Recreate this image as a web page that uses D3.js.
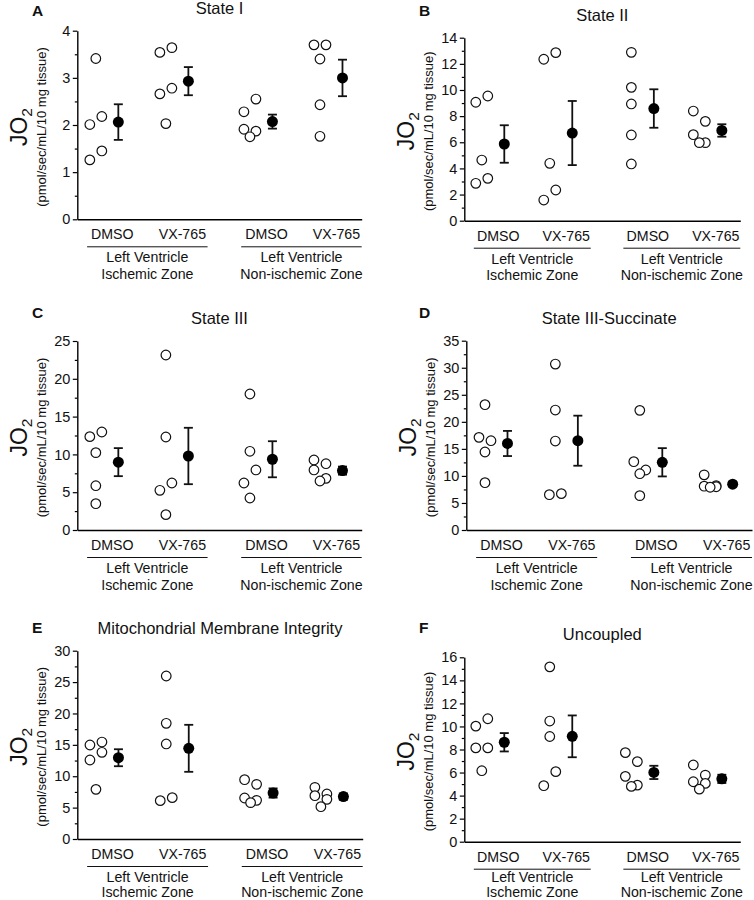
<!DOCTYPE html>
<html>
<head>
<meta charset="utf-8">
<script src="https://cdn.jsdelivr.net/npm/d3@7"></script>
<style>
  body { margin: 0; background: #fff; }
  svg { display: block; font-family: "Liberation Sans", Arial, sans-serif; }
</style>
</head>
<body>
<div id="chart"></div>
<script>
/************ data *************************************/

const categories = ["DMSO", "VX-765", "DMSO", "VX-765"];
const groupLabels = [["Left Ventricle", "Ischemic Zone"], ["Left Ventricle", "Non-ischemic Zone"]];

const panelLetters = ["A", "B", "C", "D", "E", "F"];
const panelTitles = ["State I", "State II", "State III", "State III-Succinate",
                     "Mitochondrial Membrane Integrity", "Uncoupled"];
const yMax = [4, 14, 25, 35, 30, 16];
const yStep = [1, 2, 5, 5, 5, 2];

// replicates per category (DMSO / VX-765 ischemic, DMSO / VX-765 non-ischemic)
const stateI = [
  [3.41, 2.18, 2.01, 1.45, 1.26],
  [3.64, 3.54, 2.78, 2.66, 2.03],
  [2.55, 2.28, 1.91, 1.87, 1.75],
  [3.70, 3.70, 3.40, 2.43, 1.76]
];
const stateII = [
  [9.54, 9.06, 4.64, 3.24, 2.86],
  [12.86, 12.35, 4.39, 2.35, 1.58],
  [12.88, 10.20, 8.93, 6.56, 4.34],
  [8.39, 7.60, 6.58, 5.97, 5.97]
];
const stateIII = [
  [12.96, 12.35, 10.23, 5.86, 3.48],
  [23.15, 12.30, 6.22, 5.25, 2.03],
  [17.99, 10.41, 7.94, 6.22, 4.23],
  [9.26, 8.77, 7.94, 6.83, 6.48]
];
const stateIIISuccinate = [
  [23.17, 17.13, 16.51, 14.42, 8.75],
  [30.68, 22.18, 16.45, 6.72, 6.53],
  [22.12, 12.63, 11.09, 10.41, 6.35],
  [10.2, 8.2, 8.1, 8.0, 7.9]
];
const membraneIntegrity = [
  [15.45, 14.98, 13.81, 12.59, 7.91],
  [25.97, 18.43, 15.14, 6.59, 6.11],
  [9.45, 8.71, 6.53, 6.16, 5.79],
  [8.23, 7.17, 6.90, 6.32, 5.15]
];
const uncoupled = [
  [10.67, 10.03, 8.14, 8.14, 6.16],
  [15.17, 10.47, 9.13, 6.08, 4.86],
  [7.73, 6.95, 5.67, 4.91, 4.80],
  [6.66, 5.78, 5.20, 5.06, 4.56]
];
const panelData = [stateI, stateII, stateIII, stateIIISuccinate, membraneIntegrity, uncoupled];

/************ layout *****************/

const W = 754, H = 900;
// plot frame of each panel (axis lines)
const frames = [
  {x0: 77.3,  x1: 361.7, top: 30.7,  bot: 219.3, lx: 32,  ly: 16},
  {x0: 464.3, x1: 740.3, top: 37.7,  bot: 220.7, lx: 419, ly: 16},
  {x0: 77.3,  x1: 361.7, top: 341,   bot: 530,   lx: 32,  ly: 318},
  {x0: 466.3, x1: 752,   top: 340.7, bot: 530,   lx: 419, ly: 318},
  {x0: 77.3,  x1: 362.7, top: 650.7, bot: 839,   lx: 32,  ly: 633},
  {x0: 464.3, x1: 740.3, top: 657.3, bot: 841.7, lx: 419, ly: 633}
];
const catPos = [0.5, 1.5, 2.7, 3.7];
const groupSpan = [[0.14, 1.86], [2.34, 4.06]];
const rOpen = 4.8, rMean = 5.5, jitterStep = 6;
const cloudShift = -16.5, meanShift = 6;
const labelSize = 14.2;

// simple dodge: overlapping replicates alternate left / right of the column
function dodge(vals, y) {
  const idx = d3.range(vals.length).sort((a, b) => vals[b] - vals[a]);
  const out = new Array(vals.length).fill(0);
  let cluster = [idx[0]];
  const flush = () => {
    const n = cluster.length;
    if (n < 2) return;
    let side = n % 2 === 0 ? 1 : -1;
    cluster.forEach((k, j) => {
      if (n % 2 === 1 && j === n - 1) { out[k] = 0; return; }
      out[k] = side;
      side = -side;
    });
  };
  for (let i = 1; i < idx.length; i++) {
    if (Math.abs(y(vals[idx[i - 1]]) - y(vals[idx[i]])) < 15) cluster.push(idx[i]);
    else { flush(); cluster = [idx[i]]; }
  }
  flush();
  return out;
}

const svg = d3.select("#chart").append("svg")
    .attr("width", W)
    .attr("height", H);

svg.append("rect").attr("width", W).attr("height", H).attr("fill", "#fff");

panelData.forEach((groups, p) => {
  const f = frames[p];
  const g = svg.append("g");

  const x = d3.scaleLinear().domain([0, 4.06]).range([f.x0, f.x1]);
  const y = d3.scaleLinear().domain([0, yMax[p]]).range([f.bot, f.top]);

  // y axis: majors + minors
  const majors = d3.range(0, yMax[p] + 1e-9, yStep[p]);
  const minors = d3.range(yStep[p] / 2, yMax[p], yStep[p]);

  g.append("g")
      .attr("transform", `translate(${f.x0},0)`)
      .call(d3.axisLeft(y).tickValues(minors).tickSize(2.5).tickFormat("").tickSizeOuter(0))
      .call(a => a.select(".domain").remove())
      .call(a => a.selectAll("line").attr("stroke-width", 1.2));

  g.append("g")
      .attr("transform", `translate(${f.x0},0)`)
      .call(d3.axisLeft(y).tickValues(majors).tickFormat(d3.format("d"))
          .tickSize(4.5).tickPadding(2.5).tickSizeOuter(0))
      .attr("font-size", 14.5)
      .attr("font-family", null)
      .call(a => a.select(".domain").attr("stroke-width", 1.4))
      .call(a => a.selectAll("line").attr("stroke-width", 1.2))
      .call(a => a.selectAll("text").attr("fill", "#111"));

  // x axis line, no ticks
  g.append("g")
      .attr("transform", `translate(0,${f.bot})`)
      .call(d3.axisBottom(x).tickValues([]).tickSizeOuter(0))
      .call(a => a.select(".domain").attr("stroke-width", 1.4));

  // category labels
  g.selectAll("text.cat")
      .data(categories)
      .enter().append("text")
      .attr("class", "cat")
      .attr("x", (d, i) => x(catPos[i]))
      .attr("y", f.bot + 20)
      .attr("text-anchor", "middle")
      .attr("font-size", labelSize)
      .attr("fill", "#111")
      .text(d => d);

  // group underline + two-line group label (kept inside the page at the bottom row)
  const line2 = Math.min(f.bot + 59.5, H - 3);
  const lineGap = line2 < f.bot + 59.5 ? 15.5 : 16.5;
  groupSpan.forEach((s, k) => {
    g.append("line")
        .attr("x1", x(s[0])).attr("x2", x(s[1]))
        .attr("y1", f.bot + 27.5).attr("y2", f.bot + 27.5)
        .attr("stroke", "#111").attr("stroke-width", 1);
    groupLabels[k].forEach((line, j) => {
      g.append("text")
          .attr("x", x((s[0] + s[1]) / 2))
          .attr("y", line2 - (1 - j) * lineGap)
          .attr("text-anchor", "middle")
          .attr("font-size", labelSize)
          .attr("fill", "#111")
          .text(line);
    });
  });

  // replicates (open), mean +/- SEM (filled)
  groups.forEach((vals, c) => {
    const cx = x(catPos[c]);
    const offs = dodge(vals, y);

    g.selectAll(null)
        .data(vals)
        .enter().append("circle")
        .attr("cx", (d, i) => cx + cloudShift + offs[i] * jitterStep)
        .attr("cy", d => y(d))
        .attr("r", rOpen)
        .attr("fill", "#fff")
        .attr("stroke", "#111")
        .attr("stroke-width", 1.2);

    const m = d3.mean(vals);
    const se = d3.deviation(vals) / Math.sqrt(vals.length);
    const mx = cx + meanShift;

    g.append("line")
        .attr("x1", mx).attr("x2", mx)
        .attr("y1", y(m - se)).attr("y2", y(m + se))
        .attr("stroke", "#111").attr("stroke-width", 1.8);
    [m - se, m + se].forEach(v => {
      g.append("line")
          .attr("x1", mx - 4.5).attr("x2", mx + 4.5)
          .attr("y1", y(v)).attr("y2", y(v))
          .attr("stroke", "#111").attr("stroke-width", 1.8);
    });
    g.append("circle")
        .attr("cx", mx).attr("cy", y(m))
        .attr("r", rMean)
        .attr("fill", "#000");
  });

  // y labels
  const yMid = (f.top + f.bot) / 2 + 2;
  const jo = g.append("text")
      .attr("transform", `translate(${f.x0 - 50},${yMid}) rotate(-90)`)
      .attr("text-anchor", "middle")
      .attr("font-size", 23)
      .attr("fill", "#111");
  jo.append("tspan").text("JO");
  jo.append("tspan").attr("font-size", 15.5).attr("dy", "0.3em").text("2");

  g.append("text")
      .attr("transform", `translate(${f.x0 - 31},${yMid}) rotate(-90)`)
      .attr("text-anchor", "middle")
      .attr("font-size", 13)
      .attr("fill", "#111")
      .text("(pmol/sec/mL/10 mg tissue)");

  // title + panel letter
  g.append("text")
      .attr("x", (f.x0 + f.x1) / 2)
      .attr("y", f.top - 17)
      .attr("text-anchor", "middle")
      .attr("font-size", 16.5)
      .attr("fill", "#111")
      .text(panelTitles[p]);

  g.append("text")
      .attr("x", f.lx)
      .attr("y", f.ly)
      .attr("font-size", 15.5)
      .attr("font-weight", "bold")
      .attr("fill", "#111")
      .text(panelLetters[p]);
});
</script>
</body>
</html>
